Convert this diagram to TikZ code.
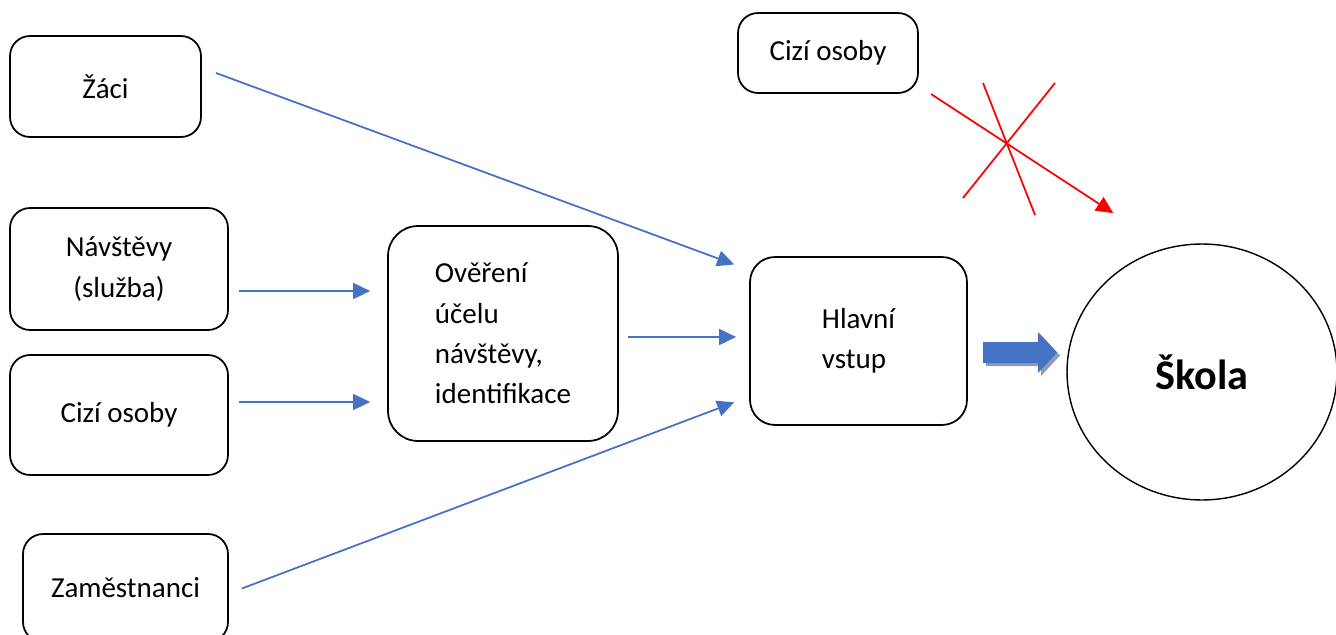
\documentclass[tikz,border=0pt]{standalone}
\usepackage{fontspec}
\setmainfont{Carlito}
\usepackage{tikz}
\usepackage{xcolor}
\usetikzlibrary{shapes.geometric, positioning, arrows.meta}
\definecolor{arrblue}{HTML}{4472C4}
\definecolor{shadegray}{HTML}{8E9CB5}

\begin{document}
\begin{tikzpicture}[x=0.02cm, y=-0.02cm,
    box/.style={draw, line width=1pt, rounded corners=0.4cm, inner sep=0pt,
      align=center, font=\fontsize{16.5}{23}\selectfont},
    arr/.style={-{Triangle[length=0.34cm,width=0.32cm]}, arrblue, line width=1pt},
    redarr/.style={-{Triangle[length=0.34cm,width=0.32cm]}, red, line width=1pt}]
     \useasboundingbox (0,0) rectangle (1336,635);
     % left column
     \node[box, minimum width=3.82cm, minimum height=2.02cm] (zaci) at (105.5,86.5) {Žáci};
     \node[box, minimum width=4.36cm, minimum height=2.44cm] (navstevy) at (119,269) {Návštěvy\\(služba)};
     \node[box, minimum width=4.36cm, minimum height=2.4cm] (cizi) at (119,415) {Cizí osoby};
     \node[box, minimum width=4.1cm, minimum height=2.16cm] (zam) at (125.5,588) {Zaměstnanci};
     % middle
     \node[box, align=left, rounded corners=0.6cm, minimum width=4.6cm, minimum height=4.3cm] (overeni) at (503,333.5)
     {Ověření\\účelu\\návštěvy,\\identifikace};
     \node[box, align=left, rounded corners=0.5cm, minimum width=4.34cm, minimum height=3.36cm] (hlavni) at (858.5,341)
     {Hlavní\\vstup};
     \node[box, minimum width=3.6cm, minimum height=1.6cm] (cizitop) at (828,53) {Cizí osoby};
     \node[draw, ellipse, line width=0.8pt, inner sep=0pt, minimum width=5.4cm, minimum height=5.12cm,
       font=\fontsize{24}{28}\selectfont\bfseries] (skola) at (1202,372) {Škola};
     % blue arrows
     \draw[arr, shorten <=0.3cm, shorten >=0.32cm] (zaci.11.7) -- (hlavni.147);
     \draw[arr, shorten <=0.2cm, shorten >=0.34cm] ([yshift=-0.44cm]navstevy.east) -- ([yshift=-0.44cm]navstevy.east -| overeni.west);
     \draw[arr, shorten <=0.2cm, shorten >=0.34cm] ([yshift=0.26cm]cizi.east) -- ([yshift=0.26cm]cizi.east -| overeni.west);
     \draw[arr, shorten <=0.28cm, shorten >=0.32cm] (zam.-3.85) -- (hlavni.207);
     \draw[arr, shorten <=0.18cm, shorten >=0.26cm] ([yshift=-0.07cm]overeni.east) -- ([yshift=-0.07cm]overeni.east -| hlavni.west);
     % block arrow with shadow
     \fill[shadegray] (986,345) -- (1041,345) -- (1041,335) -- (1060,355.5) -- (1041,376) -- (1041,366) -- (986,366) -- cycle;
     \fill[arrblue] (983,342) -- (1038,342) -- (1038,332) -- (1057,352.5) -- (1038,373) -- (1038,363) -- (983,363) -- cycle;
     % crossed out way
     \draw[redarr, shorten <=0.29cm, shorten >=1.27cm] (cizitop.-20.8) -- (skola.106.2);
     \draw[red, line width=1pt] (983,83) -- (1035,215);
     \draw[red, line width=1pt] (1055,83) -- (963,198);
\end{tikzpicture}
\end{document}
